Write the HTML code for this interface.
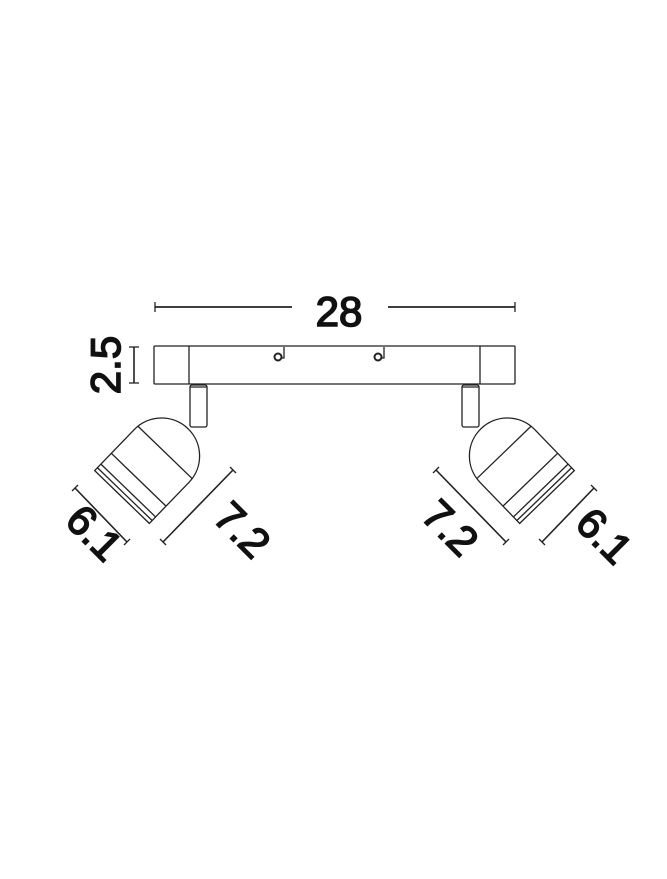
<!DOCTYPE html>
<html><head><style>body{margin:0;background:#fff}svg{display:block}</style></head><body>
<svg width="667" height="879" viewBox="0 0 667 879" xmlns="http://www.w3.org/2000/svg">
<g fill="none" stroke="#222" stroke-width="1.3">
<line x1="155" y1="307" x2="292" y2="307" stroke-width="1.8"/><line x1="155" y1="302" x2="155" y2="312"/>
<line x1="388" y1="307" x2="515" y2="307" stroke-width="1.8"/><line x1="515" y1="302" x2="515" y2="312"/>
<line x1="134" y1="347" x2="134" y2="383" stroke-width="1.6"/><line x1="129" y1="347" x2="139" y2="347"/><line x1="129" y1="383" x2="139" y2="383"/>
<rect x="154" y="346" width="361" height="38" rx="1"/>
<line x1="189" y1="346" x2="189" y2="384"/><line x1="480" y1="346" x2="480" y2="384"/>
<circle cx="278" cy="357" r="3.5" stroke-width="2"/><path d="M281 358 h3 v-11"/>
<circle cx="378" cy="357" r="3.5" stroke-width="2"/><path d="M381 358 h3 v-11"/>
<g id="lamp">
<rect x="190" y="385" width="17" height="42" rx="2"/>
<line x1="190" y1="387" x2="207" y2="387"/>
<g transform="translate(122,497) rotate(44)">
<path d="M-38 0 V-57 A38 38 0 0 1 38 -57 V0 Z"/>
<line x1="-38" y1="-4" x2="38" y2="-4"/>
<line x1="-38" y1="-9" x2="38" y2="-9"/>
<line x1="-38" y1="-24" x2="38" y2="-24"/>
<line x1="-38" y1="-62" x2="38" y2="-62"/>
</g>
</g>
<use href="#lamp" transform="translate(669,0) scale(-1,1)"/>
<line x1="75" y1="488" x2="127" y2="542" stroke-width="1.6"/><line x1="72" y1="491" x2="78" y2="485"/><line x1="124" y1="545" x2="130" y2="539"/>
<line x1="163" y1="542" x2="233" y2="470" stroke-width="1.6"/><line x1="160" y1="539" x2="166" y2="545"/><line x1="230" y1="467" x2="236" y2="473"/>
<line x1="594" y1="488" x2="542" y2="542" stroke-width="1.6"/><line x1="591" y1="485" x2="597" y2="491"/><line x1="539" y1="539" x2="545" y2="545"/>
<line x1="506" y1="542" x2="436" y2="470" stroke-width="1.6"/><line x1="503" y1="545" x2="509" y2="539"/><line x1="433" y1="473" x2="439" y2="467"/>
</g>
<g font-family="Liberation Sans, sans-serif" font-size="42" fill="#111" text-anchor="middle" stroke="#111" stroke-width="1.6">
<text x="339" y="326">28</text>
<text transform="translate(120,365) rotate(-90)">2.5</text>
<text transform="translate(84,543) rotate(45)">6.1</text>
<text transform="translate(232,540) rotate(45)">7.2</text>
<text transform="translate(440,538) rotate(45)">7.2</text>
<text transform="translate(594,546) rotate(45)">6.1</text>
</g>
</svg>
</body></html>
